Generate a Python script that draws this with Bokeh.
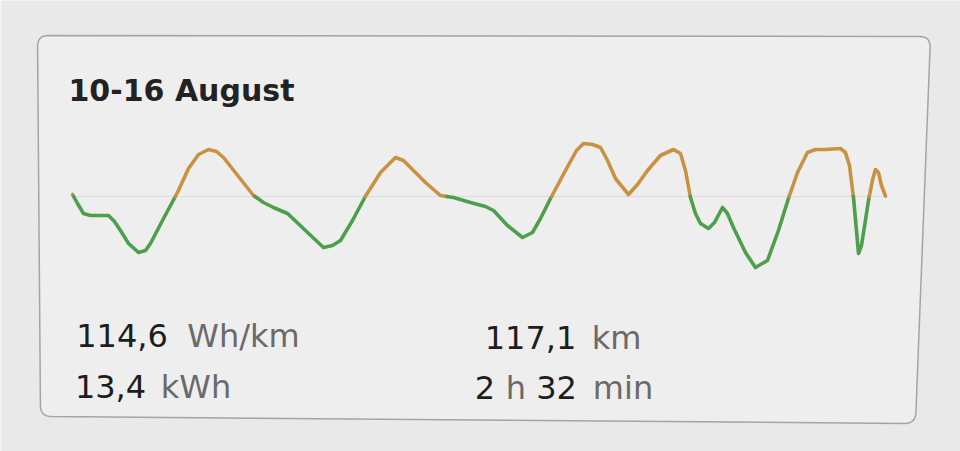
import numpy as np
from bokeh.plotting import figure
from bokeh.models import Range1d
from bokeh.embed import file_html
from bokeh.resources import INLINE
from bokeh.core.properties import value

# ---------------- data ----------------
title_text = "10-16 August"
avg_consumption = 114.6          # Wh/km (baseline of the trace)
total_distance = 117.1           # km
stat_labels = [("114,6", "Wh/km"), ("13,4", "kWh"), ("117,1", "km")]
duration_parts = [("2", "dark"), ("h", "unit"), ("32", "dark"), ("min", "unit")]

distance_km = [0.0, 0.72, 1.58, 2.59, 5.19, 6.05, 6.91, 8.07, 9.51, 10.51, 11.23, 13.11,
               15.12, 16.71, 18.15, 19.59, 20.74, 21.75, 23.91, 26.07, 27.51, 28.95, 30.97,
               33.56, 36.15, 37.45, 38.60, 40.33, 42.20, 44.36, 46.52, 47.67, 48.68, 50.84,
               53.00, 54.88, 57.32, 59.48, 60.64, 62.65, 64.81, 66.25, 67.41, 68.85, 71.01,
               72.59, 73.60, 74.90, 76.05, 77.06, 78.21, 80.08, 81.38, 82.82, 84.69, 86.56,
               87.57, 88.29, 89.01, 89.73, 90.45, 91.60, 92.47, 93.62, 94.34, 95.20, 96.93,
               98.37, 100.10, 101.68, 103.12, 104.42, 105.86, 107.01, 108.45, 110.61, 111.33,
               111.91, 112.49, 112.92, 113.21, 113.64, 114.21, 114.65, 115.22, 115.65, 116.09,
               116.52, 117.10]
consumption = [117.0, 106.2, 94.2, 91.8, 91.8, 84.6, 73.8, 58.2, 47.4, 49.8, 58.2, 88.2,
               119.4, 148.2, 165.0, 171.0, 168.6, 161.4, 138.6, 115.8, 107.4, 101.4, 94.2,
               73.8, 53.4, 55.8, 61.8, 85.8, 115.0, 143.4, 161.4, 157.8, 149.4, 131.4,
               115.8, 113.4, 107.4, 102.6, 97.8, 79.8, 65.4, 71.4, 88.2, 112.2, 145.8,
               169.8, 178.2, 177.0, 173.4, 157.8, 136.2, 117.0, 129.0, 145.8, 163.8, 171.0,
               166.2, 145.8, 113.4, 94.2, 82.2, 76.2, 83.4, 101.4, 94.2, 77.4, 47.4,
               29.4, 37.8, 73.8, 112.2, 143.4, 167.4, 171.0, 171.0, 172.2, 167.4,
               151.8, 113.4, 73.8, 46.2, 55.8, 85.8, 109.8, 133.8, 147.0, 143.4,
               127.8, 115.0]

# ---------------- styling ----------------
W, H = 960, 451
BG = "#e9e9e9"
CARD = "#eeeeee"
BORDER = "#a4a4a4"
DARK = "#1d1d1d"
GRAY = "#6a6a6a"
GREEN = "#4e9f4c"
ORANGE = "#c99142"
FONT = value("DejaVu Sans")

p = figure(width=W, height=H, x_range=Range1d(0, W), y_range=Range1d(H, 0),
           output_backend="svg", toolbar_location=None, min_border=0)
p.axis.visible = False
p.grid.visible = False
p.outline_line_color = None
p.background_fill_color = BG
p.border_fill_color = BG

# card (rounded quadrilateral, pixel coords)
def rounded_poly(corners, r, n=8):
    xs, ys = [], []
    m = len(corners)
    for i in range(m):
        P = np.array(corners[i], float)
        A = np.array(corners[i - 1], float)
        B = np.array(corners[(i + 1) % m], float)
        pa = P + (A - P) / np.linalg.norm(A - P) * r
        pb = P + (B - P) / np.linalg.norm(B - P) * r
        for t in np.linspace(0, 1, n):
            q = (1 - t) ** 2 * pa + 2 * (1 - t) * t * P + t ** 2 * pb
            xs.append(q[0]); ys.append(q[1])
    return xs, ys

cx, cy = rounded_poly([(37, 35), (930, 36), (915, 423), (40, 416)], 11)
p.patch(cx, cy, fill_color=CARD, line_color=BORDER, line_width=1.5)

# extra ranges for the trace (km horizontally, Wh/km vertically)
kx = total_distance / (885 - 72)
x0 = -72 * kx
p.extra_x_ranges = {"km": Range1d(x0, x0 + W * kx)}
ky = 1.2
base_px = 196
p.extra_y_ranges = {"wh": Range1d(avg_consumption - (H - base_px) * ky,
                                  avg_consumption + base_px * ky)}

# faint average line
p.line([0, total_distance], [avg_consumption, avg_consumption], x_range_name="km",
       y_range_name="wh", line_color="#dcdcdc", line_width=1)

# split trace into runs above / below the average
def split_runs(x, y, base):
    runs = []
    cur_x, cur_y = [x[0]], [y[0]]
    cur_above = y[0] >= base
    for i in range(1, len(x)):
        above = y[i] >= base
        if above != cur_above:
            t = (base - y[i - 1]) / (y[i] - y[i - 1])
            xc = x[i - 1] + t * (x[i] - x[i - 1])
            cur_x.append(xc); cur_y.append(base)
            runs.append((cur_above, cur_x, cur_y))
            cur_x, cur_y, cur_above = [xc, x[i]], [base, y[i]], above
        else:
            cur_x.append(x[i]); cur_y.append(y[i])
    runs.append((cur_above, cur_x, cur_y))
    return runs

runs = split_runs(distance_km, consumption, avg_consumption)
p.multi_line([r[1] for r in runs], [r[2] for r in runs],
             line_color=[ORANGE if r[0] else GREEN for r in runs],
             line_width=3.6, line_join="round", line_cap="round",
             x_range_name="km", y_range_name="wh")

# texts
p.text([68], [90], text=[title_text], text_font=FONT, text_font_size="30px",
       text_font_style="bold", text_color="#222222", text_baseline="alphabetic")

def put(xc, y, s, color):
    p.text([xc], [y], text=[s], text_font=FONT, text_font_size="32px",
           text_color=color, text_baseline="alphabetic", text_align="center")

put(121.5, 335, stat_labels[0][0], DARK); put(243, 335, stat_labels[0][1], GRAY)
put(110, 386, stat_labels[1][0], DARK); put(195.5, 386, stat_labels[1][1], GRAY)
put(530, 337, stat_labels[2][0], DARK); put(616, 337, stat_labels[2][1], GRAY)
dur_x = [484.5, 515.5, 556, 622.5]
for (s, kind), xx in zip(duration_parts, dur_x):
    put(xx, 387, s, DARK if kind == "dark" else GRAY)

open("out.html", "w").write(file_html(p, INLINE))
